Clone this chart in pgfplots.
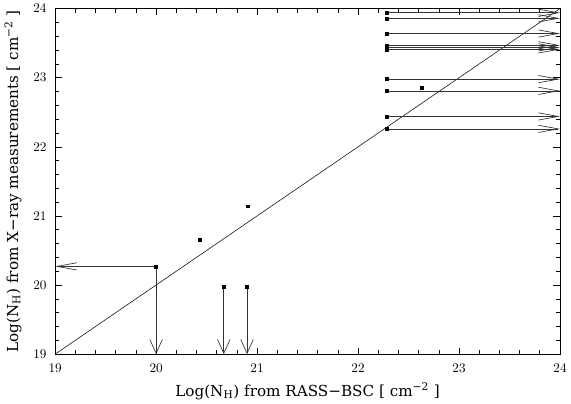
\documentclass[border=0pt]{standalone}
\usepackage{fontspec}
\usepackage{pgfplots}
\pgfplotsset{compat=1.18}
\usetikzlibrary{arrows.meta}
\newfontfamily\labelfont{DejaVu Serif}

% lower limits: arrows to the right (x is a lower limit)
\pgfplotstableread{
x     y     u     v
22.28 23.94 1.72  0
22.28 23.86 1.72  0
22.28 23.64 1.72  0
22.28 23.47 1.72  0
22.28 23.44 1.72  0
22.28 23.41 1.72  0
22.28 22.98 1.72  0
22.28 22.81 1.72  0
22.28 22.44 1.72  0
22.28 22.26 1.72  0
20.00 20.27 -1.00 0
}\harrows

\pgfplotstableread{
x     y     u  v
20.00 20.27 0  -1.27
20.67 19.98 0  -0.98
20.90 19.98 0  -0.98
}\varrows

\pgfplotstableread{
x     y
22.28 23.94
22.28 23.86
22.28 23.64
22.28 23.47
22.28 23.44
22.28 23.41
22.28 22.98
22.28 22.81
22.28 22.44
22.28 22.26
20.00 20.27
20.43 20.66
20.67 19.98
20.90 19.98
20.91 21.14
22.63 22.86
}\points

\begin{document}
\begin{tikzpicture}
\begin{axis}[
  scale only axis,
  width=382.5pt, height=261.75pt,
  xmin=19, xmax=24, ymin=19, ymax=24,
  xtick={19,...,24}, ytick={19,...,24},
  minor tick num=4,
  tick align=inside,
  major tick length=5pt, minor tick length=3pt,
  tick style={black, line width=0.5pt},
  axis line style={line width=0.6pt},
  ticklabel style={font=\fontsize{10}{12}\selectfont},
  xticklabel style={yshift=-4pt},
  yticklabel style={xshift=-3pt},
  xlabel={Log(N\textsubscript{H}) from RASS−BSC [ cm\textsuperscript{−2} ]},
  ylabel={Log(N\textsubscript{H}) from X−ray measurements [ cm\textsuperscript{−2} ]},
  every axis x label/.style={at={(axis description cs:0.5,0)}, anchor=north, yshift=-18pt,
    font=\labelfont\fontsize{11.5}{14}\selectfont},
  every axis y label/.style={at={(axis description cs:-0.0837,0.5)}, anchor=center, rotate=90,
    font=\labelfont\fontsize{11.5}{14}\selectfont},
  clip=false,
]
\addplot[black, line width=0.4pt] coordinates {(19,19) (24,24)};
\addplot[black!80, line width=0.5pt,
  -{Straight Barb[length=15pt, width=5.5pt, line width=0.5pt]},
  quiver={u=\thisrow{u}, v=\thisrow{v}}] table {\harrows};
\addplot[black!80, line width=0.5pt,
  -{Straight Barb[length=10.5pt, width=9.5pt, line width=0.5pt]},
  quiver={u=\thisrow{u}, v=\thisrow{v}}] table {\varrows};
\addplot[only marks, mark=square*, mark size=1.1pt, black] table {\points};
\end{axis}
\path ([xshift=-41.25pt, yshift=-33pt]current axis.south west)
  rectangle ([xshift=4.5pt, yshift=6pt]current axis.north east);
\end{tikzpicture}
\end{document}
